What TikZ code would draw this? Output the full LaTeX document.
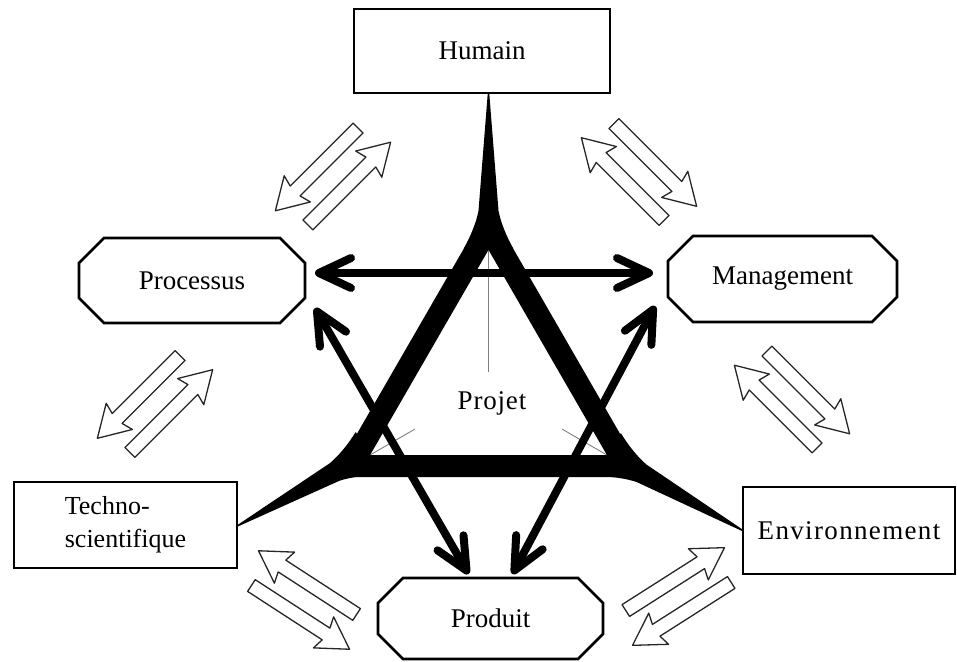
\documentclass[tikz,border=0pt]{standalone}
\usepackage{fontspec}
\setmainfont{Liberation Serif}
\usetikzlibrary{arrows.meta,calc}

% octagonal frame around a node, #2 = size of the cut corners
\newcommand\octoframe[2]{%
  \draw[octoline] ($(#1.north west)+(#2,0)$) -- ($(#1.north east)+(-#2,0)$)
    -- ($(#1.north east)+(0,#2)$) -- ($(#1.south east)+(0,-#2)$)
    -- ($(#1.south east)+(-#2,0)$) -- ($(#1.south west)+(#2,0)$)
    -- ($(#1.south west)+(0,-#2)$) -- ($(#1.north west)+(0,#2)$) -- cycle;}

% tapered spike leaving a corner of the triangle; #1 direction, #2 reach
\newcommand\spike[2]{%
  \begin{scope}[shift={(ctr)}, rotate=#1]
    \fill (138,-24.8) -- (138,24.8) .. controls (150,18) and (165,12) .. (176,10)
      -- (#2,0.7) -- (#2,-0.7) -- (176,-10) .. controls (165,-12) and (150,-18) .. (138,-24.8) -- cycle;
  \end{scope}}

% pair of hollow arrows pointing opposite ways; #1 centre, #2 direction, #3 extra transform
\newcommand\swappair[3]{%
  \begin{scope}[shift={(#1)}, rotate=#2, #3]
    \path[swapshape] (-52,9.5) -- (37,9.5) -- (34,-2) -- (65,16.5) -- (34,35)
      -- (37,23.5) -- (-52,23.5) -- cycle;
    \path[swapshape] (52,-9.5) -- (-37,-9.5) -- (-34,2) -- (-65,-16.5) -- (-34,-35)
      -- (-37,-23.5) -- (52,-23.5) -- cycle;
  \end{scope}}

\tikzset{
  >={Straight Barb[round,length=32pt,width=30pt]},
  box/.style={draw, line width=2.6pt, inner sep=0pt, outer sep=0pt,
    font=\fontsize{27}{33}\selectfont},
  octo/.style={inner sep=0pt, outer sep=0pt, font=\fontsize{27}{33}\selectfont},
  octoline/.style={line width=2.6pt, line join=miter},
  link/.style={<->, line width=8pt, line cap=round},
  frame/.style={line width=22pt, line join=miter},
  guide/.style={draw=black!50, line width=0.9pt},
  swapshape/.style={draw=black!85, line width=1.3pt, fill=white, line join=round},
  plain/.style={},
  mirrored/.style={yscale=-1}
}

\begin{document}
\begin{tikzpicture}[x=1pt,y=-1pt]
\useasboundingbox (0,0) rectangle (957,661);

% the six domains
\node[box, minimum width=256, minimum height=84] (hum) at (482,51) {Humain};
\node[octo, minimum width=226, minimum height=85] (proc) at (192,280.5) {Processus};
\node[octo, minimum width=229, minimum height=86] (mgmt) at (782.5,279) {Management};
\node[octo, minimum width=225, minimum height=81] (prod) at (490.5,618.5) {Produit};
\node[box, minimum width=223, minimum height=86, align=left,
      font=\fontsize{26}{33}\selectfont] (tech) at (125.5,525) {Techno-\\scientifique};
\node[box, minimum width=212, minimum height=87] (env) at (849,530.5)
      {\addfontfeature{LetterSpace=5}Environnement};
\octoframe{proc}{25}
\octoframe{mgmt}{25}
\octoframe{prod}{25}

% central triangle
\coordinate (ctr) at (488.5,386.7);
\coordinate (tA) at (488.5,227.9);
\coordinate (tB) at (351.0,466.1);
\coordinate (tC) at (626.0,466.1);
\node[font=\fontsize{27}{33}\selectfont\addfontfeature{LetterSpace=3}] (proj) at (492,403) {Projet};

\draw[guide] (488.5,251) -- (488.5,372);
\draw[guide] (369.9,455.1) -- (414.9,429.1);
\draw[guide] (607.1,455.1) -- (562.1,429.1);

\draw[frame] (tA) -- (tB) -- (tC) -- cycle;
\spike{90}{294}
\spike{209}{287.4}
\spike{-29.5}{292.5}

% links between the project and its domains
\draw[link] ($(proc.east)+(10,-7.5)$) -- ($(mgmt.west)+(-15,-6)$);
\draw[link] ($(proc.east)+(10,27.5)$) -- ($(prod.north)+(-22,-4)$);
\draw[link] ($(mgmt.west)+(-13,27)$) -- ($(prod.north)+(22,-4)$);

% two-way exchanges between neighbouring domains
\swappair{333,176.5}{45}{plain}
\swappair{639,172}{135}{mirrored}
\swappair{155,404}{45}{plain}
\swappair{792,399.5}{135}{mirrored}
\swappair{304,600}{147}{plain}
\swappair{678.5,596.5}{32.5}{mirrored}
\end{tikzpicture}
\end{document}
